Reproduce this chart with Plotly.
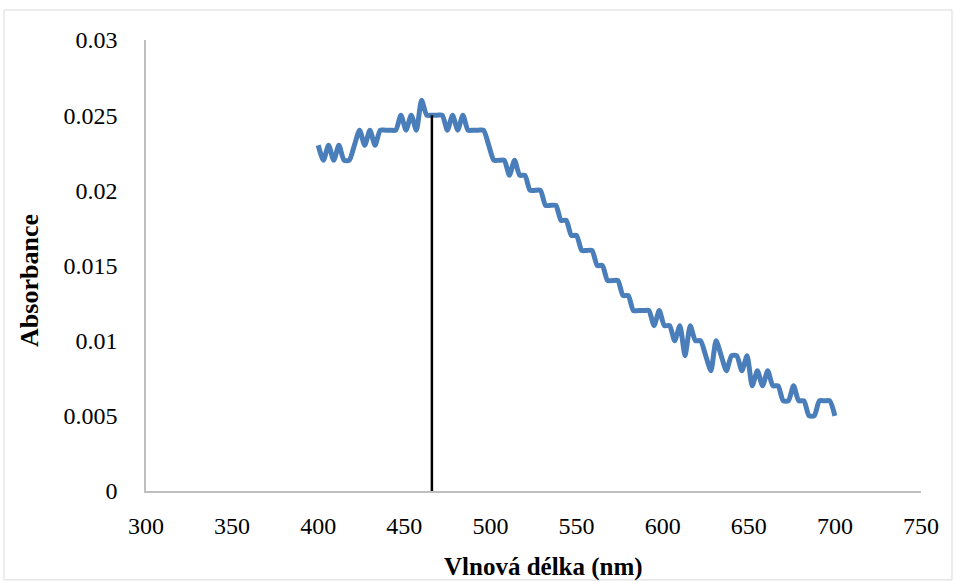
import plotly.graph_objects as go

wavelength_nm = [
    400, 403, 406, 409, 412, 415, 418, 421, 424, 427,
    430, 433, 436, 439, 442, 445, 448, 451, 454, 457,
    460, 463, 466, 469, 472, 475, 478, 481, 484, 487,
    490, 493, 496, 499, 502, 505, 508, 511, 514, 517,
    520, 523, 526, 529, 532, 535, 538, 541, 544, 547,
    550, 553, 556, 559, 562, 565, 568, 571, 574, 577,
    580, 583, 586, 589, 592, 595, 598, 601, 604, 607,
    610, 613, 616, 619, 622, 625, 628, 631, 634, 637,
    640, 643, 646, 649, 652, 655, 658, 661, 664, 667,
    670, 673, 676, 679, 682, 685, 688, 691, 694, 697,
    700,
]
absorbance = [
    0.023, 0.022, 0.023, 0.022, 0.023, 0.022, 0.022, 0.023, 0.024, 0.023,
    0.024, 0.023, 0.024, 0.024, 0.024, 0.024, 0.025, 0.024, 0.025, 0.024,
    0.026, 0.025, 0.025, 0.025, 0.025, 0.024, 0.025, 0.024, 0.025, 0.024,
    0.024, 0.024, 0.024, 0.023, 0.022, 0.022, 0.022, 0.021, 0.022, 0.021,
    0.021, 0.020, 0.020, 0.020, 0.019, 0.019, 0.019, 0.018, 0.018, 0.017,
    0.017, 0.016, 0.016, 0.016, 0.015, 0.015, 0.014, 0.014, 0.014, 0.013,
    0.013, 0.012, 0.012, 0.012, 0.012, 0.011, 0.012, 0.011, 0.011, 0.010,
    0.011, 0.009, 0.011, 0.010, 0.010, 0.009, 0.008, 0.010, 0.009, 0.008,
    0.009, 0.009, 0.008, 0.009, 0.007, 0.008, 0.007, 0.008, 0.007, 0.007,
    0.006, 0.006, 0.007, 0.006, 0.006, 0.005, 0.005, 0.006, 0.006, 0.006,
    0.005,
]

# vertical marker line (lambda max)
marker_wavelength = [466, 466]
marker_absorbance = [0, 0.025]

x_tick_vals = [300, 350, 400, 450, 500, 550, 600, 650, 700, 750]
y_tick_vals = [0, 0.005, 0.01, 0.015, 0.02, 0.025, 0.03]
y_tick_text = ["0", "0.005", "0.01", "0.015", "0.02", "0.025", "0.03"]

FONT = "Liberation Serif, Times New Roman, serif"

fig = go.Figure()
fig.add_trace(go.Scatter(
    x=wavelength_nm, y=absorbance, mode="lines",
    line=dict(color="#4a7ebb", width=5, shape="spline", smoothing=0.6),
    showlegend=False, hoverinfo="skip",
))
fig.add_trace(go.Scatter(
    x=marker_wavelength, y=marker_absorbance, mode="lines",
    line=dict(color="black", width=2.5),
    showlegend=False, hoverinfo="skip",
))

fig.update_layout(
    width=955, height=581,
    margin=dict(l=146, r=34, t=40, b=90),
    paper_bgcolor="white", plot_bgcolor="white",
    font=dict(family=FONT, size=24, color="black"),
    xaxis=dict(
        range=[300, 750], tickvals=x_tick_vals, showgrid=False, zeroline=False,
        showline=True, linecolor="#bfbfbf", linewidth=1.5, ticks="",
        ticklabelstandoff=12, tickfont=dict(family=FONT, size=24),
    ),
    yaxis=dict(
        range=[0, 0.03], tickvals=y_tick_vals, ticktext=y_tick_text,
        showgrid=False, zeroline=False,
        showline=True, linecolor="#bfbfbf", linewidth=1.5, ticks="",
        ticklabelstandoff=22, tickfont=dict(family=FONT, size=24),
    ),
    shapes=[dict(
        type="rect", xref="paper", yref="paper",
        x0=-0.1832, x1=1.04, y0=-0.197, y1=1.0665,
        line=dict(color="#d9d9d9", width=1), fillcolor="rgba(0,0,0,0)",
        layer="below",
    )],
    annotations=[
        dict(text="<b>Absorbance</b>", textangle=-90, xref="paper", yref="paper",
             x=-0.1497, y=0.468, xanchor="center", yanchor="middle",
             showarrow=False, font=dict(family=FONT, size=26)),
        dict(text="<b>Vlnová délka (nm)</b>", xref="paper", yref="paper",
             x=0.5135, y=-0.168, xanchor="center", yanchor="middle",
             showarrow=False, font=dict(family=FONT, size=25)),
    ],
)

fig.write_html("out.html", config={"displayModeBar": False},
               post_script="document.body.style.margin='0px';")
